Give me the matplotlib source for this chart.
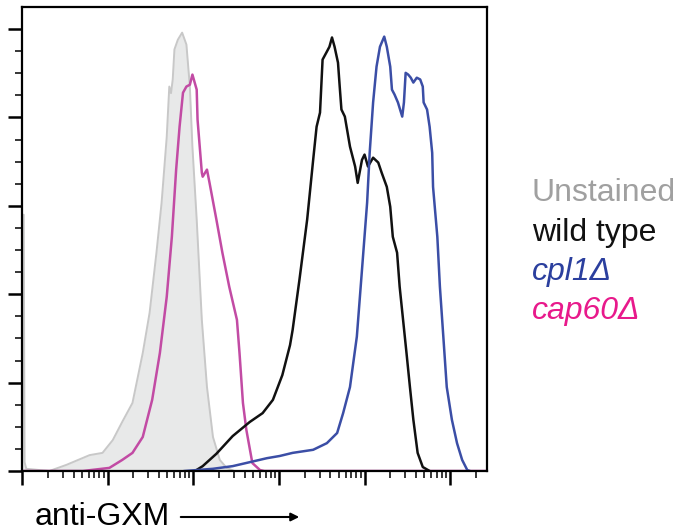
import matplotlib.pyplot as plt
import numpy as np

plt.rcParams['font.family'] = ['Liberation Sans', 'DejaVu Sans']

# x values are log10 of fluorescence intensity, y values are % of mode
unstained_logx = [0.0, 0.02, 0.03, 0.05, 0.32, 0.52, 0.79, 0.94, 1.06, 1.17, 1.29, 1.41, 1.49,
                  1.57, 1.63, 1.69, 1.72, 1.74, 1.76, 1.78, 1.82, 1.87, 1.92, 1.96, 1.99,
                  2.04, 2.10, 2.16, 2.23, 2.31, 2.39, 2.48]
unstained_y = [0, 58, 2, 0.5, 0, 1.4, 3.6, 4.1, 7.0, 11.1, 15.4, 26.7, 35.8,
               49.4, 60.7, 75.6, 87.0, 85.5, 88.6, 95.4, 97.6, 99.2, 96.5, 87.0, 73.4,
               56.9, 34.2, 19.0, 7.7, 2.5, 0.7, 0]

wildtype_logx = [2.02, 2.11, 2.27, 2.46, 2.66, 2.81, 2.93, 3.04, 3.13, 3.16, 3.24, 3.33, 3.40,
                 3.44, 3.48, 3.51, 3.56, 3.59, 3.62, 3.65, 3.69, 3.71, 3.73, 3.77, 3.83,
                 3.89, 3.92, 3.97, 4.00, 4.04, 4.10, 4.16, 4.20, 4.26, 4.30, 4.33, 4.38,
                 4.41, 4.45, 4.49, 4.53, 4.57, 4.62, 4.68, 4.76]
wildtype_y = [0, 1.1, 3.9, 7.9, 11.1, 13.1, 16.1, 21.7, 28.5, 31.9, 43.3, 56.9, 70.4,
              77.9, 81.1, 93.1, 94.9, 96.0, 98.1, 96.0, 92.4, 87.0, 81.8, 80.2, 73.4,
              68.9, 65.2, 70.4, 71.6, 68.9, 70.9, 69.8, 67.5, 64.3, 59.8, 53.0, 49.4,
              41.7, 34.2, 26.7, 19.0, 11.6, 4.1, 0.9, 0]

cpl1_logx = [1.90, 2.23, 2.46, 2.66, 2.86, 3.01, 3.16, 3.40, 3.56, 3.68, 3.75, 3.83, 3.91,
             3.97, 4.03, 4.06, 4.10, 4.14, 4.18, 4.23, 4.26, 4.30, 4.32, 4.35, 4.39,
             4.44, 4.46, 4.48, 4.51, 4.54, 4.57, 4.61, 4.65, 4.68, 4.69, 4.73, 4.76,
             4.79, 4.80, 4.85, 4.88, 4.92, 4.96, 5.02, 5.08, 5.14, 5.20, 5.23]
cpl1_y = [0, 0.5, 1.1, 2.0, 2.9, 3.4, 4.1, 4.8, 6.3, 8.6, 13.1, 19.0, 30.4,
          45.5, 60.7, 72.0, 83.4, 91.5, 96.0, 98.3, 96.0, 91.5, 86.3, 85.2, 83.4,
          80.2, 83.4, 90.1, 89.7, 89.0, 87.9, 89.0, 88.6, 87.0, 83.4, 81.8, 77.9,
          72.0, 64.3, 53.0, 41.7, 30.4, 19.0, 11.6, 6.3, 2.5, 0.2, 0]

cap60_logx = [0.0, 0.71, 1.02, 1.17, 1.29, 1.41, 1.52, 1.61, 1.69, 1.75, 1.80, 1.84, 1.88,
              1.92, 1.96, 1.99, 2.04, 2.05, 2.10, 2.11, 2.16, 2.19, 2.27, 2.34, 2.42,
              2.51, 2.54, 2.58, 2.62, 2.69, 2.78, 2.83, 5.43]
cap60_y = [0, 0, 0.7, 2.5, 4.1, 7.7, 16.1, 26.7, 39.4, 53.0, 68.2, 77.9, 85.6,
           87.0, 87.4, 89.7, 86.3, 79.5, 67.5, 66.6, 68.2, 65.2, 56.9, 49.4, 41.7,
           34.2, 26.7, 15.4, 9.3, 1.8, 0.2, 0, 0]

labels = ['Unstained', 'wild type', 'cpl1\u0394', 'cap60\u0394']
label_colors = ['#a0a0a0', '#111111', '#2b3f9e', '#e8198b']
label_styles = ['normal', 'normal', 'italic', 'italic']

fig = plt.figure(figsize=(6.78, 5.31), dpi=100)
ax = fig.add_axes([22 / 678, 60 / 531, 465 / 678, 464 / 531])

ux = 10 ** np.array(unstained_logx)
ax.fill_between(ux, unstained_y, color='#e8e9e9', lw=0)
ax.plot(ux, unstained_y, color='#c8c8c8', lw=1.4)
ax.plot(10 ** np.array(cap60_logx), cap60_y, color='#c24ba4', lw=1.8)
ax.plot(10 ** np.array(wildtype_logx), wildtype_y, color='#111111', lw=1.8)
ax.plot(10 ** np.array(cpl1_logx), cpl1_y, color='#3b4ea6', lw=1.8)

ax.set_xscale('log')
ax.set_xlim(1, 10 ** 5.43)
ax.set_ylim(0, 105)
ax.set_yticks(np.arange(0, 101, 20))
ax.set_yticks(np.arange(0, 101, 5), minor=True)
ax.set_xticks(10.0 ** np.arange(0, 6))
ax.xaxis.set_minor_locator(plt.matplotlib.ticker.LogLocator(base=10, subs=np.arange(2, 10)))
ax.set_xticklabels([])
ax.set_yticklabels([])
ax.xaxis.set_minor_formatter(plt.NullFormatter())
ax.tick_params(which='major', direction='out', length=10, width=1.8, color='black')
ax.tick_params(which='minor', direction='out', length=5, width=1.1, color='black')
for sp in ax.spines.values():
    sp.set_linewidth(1.6)

for i, (lab, col, sty) in enumerate(zip(labels, label_colors, label_styles)):
    fig.text(532 / 678, 1 - (193 + 39.5 * i) / 531, lab, color=col, style=sty,
             fontsize=23, va='center', ha='left')

fig.text(35 / 678, 1 - 517 / 531, 'anti-GXM', fontsize=23, va='center', ha='left')
ax.annotate('', xy=(302 / 678, 1 - 517 / 531), xytext=(178 / 678, 1 - 517 / 531),
            xycoords='figure fraction', textcoords='figure fraction',
            arrowprops=dict(arrowstyle='-|>', color='black', lw=1.5, mutation_scale=12))

fig.savefig('out.png', dpi=100)
